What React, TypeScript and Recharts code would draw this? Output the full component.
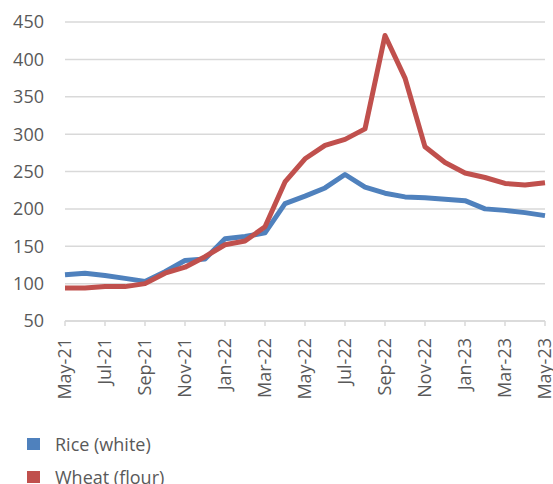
import { LineChart, Line, XAxis, YAxis, CartesianGrid } from 'recharts'

const months = [
  'May-21', 'Jun-21', 'Jul-21', 'Aug-21', 'Sep-21', 'Oct-21', 'Nov-21', 'Dec-21',
  'Jan-22', 'Feb-22', 'Mar-22', 'Apr-22', 'May-22', 'Jun-22', 'Jul-22', 'Aug-22',
  'Sep-22', 'Oct-22', 'Nov-22', 'Dec-22', 'Jan-23', 'Feb-23', 'Mar-23', 'Apr-23', 'May-23',
]

const rice = [
  112, 114, 111, 107, 103, 116, 131, 133, 160, 163, 168, 207, 217, 228, 246, 229,
  221, 216, 215, 213, 211, 200, 198, 195, 191,
]

const wheat = [
  94, 94, 96, 96, 100, 114, 122, 136, 152, 157, 176, 236, 267, 285, 293, 307,
  432, 375, 283, 262, 248, 242, 234, 232, 235,
]

const yTicks = [50, 100, 150, 200, 250, 300, 350, 400, 450]

const series = [
  { key: 'rice', name: 'Rice (white)', color: '#4f81bd' },
  { key: 'wheat', name: 'Wheat (flour)', color: '#c0504d' },
]

const data = months.map((m, i) => ({ month: m, rice: rice[i], wheat: wheat[i] }))

const FONT = '"Open Sans", sans-serif'
const TEXT = '#595959'
const GRID = '#d9d9d9'

function MonthTick({ x, y, payload }: any) {
  return (
    <g transform={`translate(${x},${y})`}>
      <text
        transform="rotate(-90)"
        textAnchor="end"
        dy="0.36em"
        fill={TEXT}
        fontSize={18}
        fontFamily={FONT}
      >
        {payload.value}
      </text>
    </g>
  )
}

export default function App() {
  return (
    <div style={{ position: 'absolute', left: 0, top: 0, width: 553, height: 484, background: '#fff' }}>
      <LineChart width={553} height={484} data={data} margin={{ top: 22, right: 8, bottom: 73, left: 0 }}>
        <CartesianGrid vertical={false} stroke={GRID} strokeWidth={1.5} />
        <XAxis
          dataKey="month"
          interval={1}
          height={90}
          stroke={GRID}
          strokeWidth={1.5}
          tickSize={5}
          tickMargin={12}
          tick={<MonthTick />}
        />
        <YAxis
          domain={[50, 450]}
          ticks={yTicks}
          width={65}
          axisLine={false}
          tickLine={false}
          tickSize={0}
          tickMargin={21}
          tick={{ fill: TEXT, fontSize: 18, fontFamily: FONT }}
        />
        {series.map((s) => (
          <Line
            key={s.key}
            type="linear"
            dataKey={s.key}
            name={s.name}
            stroke={s.color}
            strokeWidth={5}
            dot={false}
            strokeLinejoin="round"
            isAnimationActive={false}
          />
        ))}
      </LineChart>
      {series.map((s, i) => (
        <div
          key={s.key}
          style={{
            position: 'absolute',
            left: 27,
            top: 433 + i * 33,
            height: 22,
            display: 'flex',
            alignItems: 'center',
            fontFamily: FONT,
            fontSize: 18,
            color: TEXT,
            whiteSpace: 'nowrap',
          }}
        >
          <span style={{ display: 'inline-block', width: 13, height: 12, background: s.color, marginRight: 15 }} />
          {s.name}
        </div>
      ))}
    </div>
  )
}
